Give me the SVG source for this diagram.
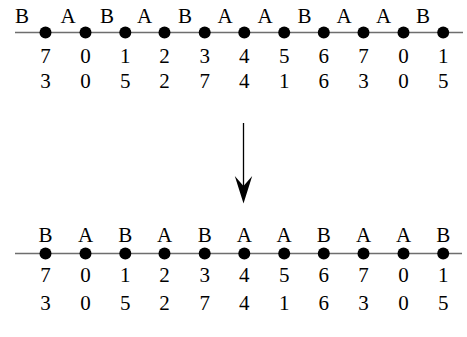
<svg xmlns="http://www.w3.org/2000/svg" width="467" height="337" viewBox="0 0 467 337">
<style>
.axis{stroke:#6e6e6e;stroke-width:1.6;fill:none}
.dot{fill:#000}
.lbl{font-family:"Liberation Serif","Times New Roman",serif;font-size:21px;fill:#000;text-anchor:middle}
</style>
<rect width="467" height="337" fill="#fff"/>
<g id="top">
<line class="axis" x1="15" y1="32.5" x2="463" y2="32.5" stroke="#6e6e6e" stroke-width="1.6"/>
<g id="top-dots" fill="#000">
<circle class="dot" cx="45.5" cy="32.5" r="6"/><circle class="dot" cx="85.5" cy="32.5" r="6"/><circle class="dot" cx="125.3" cy="32.5" r="6"/><circle class="dot" cx="164.5" cy="32.5" r="6"/><circle class="dot" cx="204.7" cy="32.5" r="6"/><circle class="dot" cx="244.3" cy="32.5" r="6"/><circle class="dot" cx="284.2" cy="32.5" r="6"/><circle class="dot" cx="323.8" cy="32.5" r="6"/><circle class="dot" cx="363.5" cy="32.5" r="6"/><circle class="dot" cx="403.5" cy="32.5" r="6"/><circle class="dot" cx="443.2" cy="32.5" r="6"/>
</g>
<g id="top-letters" class="lbl" font-family="'Liberation Serif', 'Times New Roman', serif" font-size="21" text-anchor="middle" fill="#000">
<text x="22" y="22.7">B</text><text x="68" y="22.7">A</text><text x="107" y="22.7">B</text><text x="144.5" y="22.7">A</text><text x="185" y="22.7">B</text><text x="225" y="22.7">A</text><text x="265" y="22.7">A</text><text x="304.5" y="22.7">B</text><text x="344" y="22.7">A</text><text x="383.5" y="22.7">A</text><text x="423" y="22.7">B</text>
</g>
<g id="top-row1" class="lbl" font-family="'Liberation Serif', 'Times New Roman', serif" font-size="21" text-anchor="middle" fill="#000">
<text x="45.5" y="63.3">7</text><text x="85.5" y="63.3">0</text><text x="125.3" y="63.3">1</text><text x="164.5" y="63.3">2</text><text x="204.7" y="63.3">3</text><text x="244.3" y="63.3">4</text><text x="284.2" y="63.3">5</text><text x="323.8" y="63.3">6</text><text x="363.5" y="63.3">7</text><text x="403.5" y="63.3">0</text><text x="443.2" y="63.3">1</text>
</g>
<g id="top-row2" class="lbl" font-family="'Liberation Serif', 'Times New Roman', serif" font-size="21" text-anchor="middle" fill="#000">
<text x="45.5" y="88.3">3</text><text x="85.5" y="88.3">0</text><text x="125.3" y="88.3">5</text><text x="164.5" y="88.3">2</text><text x="204.7" y="88.3">7</text><text x="244.3" y="88.3">4</text><text x="284.2" y="88.3">1</text><text x="323.8" y="88.3">6</text><text x="363.5" y="88.3">3</text><text x="403.5" y="88.3">0</text><text x="443.2" y="88.3">5</text>
</g>
</g>
<g id="connectors">
<line x1="243.5" y1="123" x2="243.5" y2="190" stroke="#000" stroke-width="1.3"/>
<path d="M243.5,203.5 L234.8,176 L243.5,186 L252.2,176 Z" fill="#000"/>
</g>
<g id="bottom">
<line class="axis" x1="15" y1="253.5" x2="462" y2="253.5" stroke="#6e6e6e" stroke-width="1.6"/>
<g id="bottom-dots" fill="#000">
<circle class="dot" cx="45.5" cy="253.5" r="6"/><circle class="dot" cx="85.5" cy="253.5" r="6"/><circle class="dot" cx="125.3" cy="253.5" r="6"/><circle class="dot" cx="164.5" cy="253.5" r="6"/><circle class="dot" cx="204.7" cy="253.5" r="6"/><circle class="dot" cx="244.3" cy="253.5" r="6"/><circle class="dot" cx="284.2" cy="253.5" r="6"/><circle class="dot" cx="323.8" cy="253.5" r="6"/><circle class="dot" cx="363.5" cy="253.5" r="6"/><circle class="dot" cx="403.5" cy="253.5" r="6"/><circle class="dot" cx="443.2" cy="253.5" r="6"/>
</g>
<g id="bottom-letters" class="lbl" font-family="'Liberation Serif', 'Times New Roman', serif" font-size="21" text-anchor="middle" fill="#000">
<text x="45.5" y="241.7">B</text><text x="85.5" y="241.7">A</text><text x="125.3" y="241.7">B</text><text x="164.5" y="241.7">A</text><text x="204.7" y="241.7">B</text><text x="244.3" y="241.7">A</text><text x="284.2" y="241.7">A</text><text x="323.8" y="241.7">B</text><text x="363.5" y="241.7">A</text><text x="403.5" y="241.7">A</text><text x="443.2" y="241.7">B</text>
</g>
<g id="bottom-row1" class="lbl" font-family="'Liberation Serif', 'Times New Roman', serif" font-size="21" text-anchor="middle" fill="#000">
<text x="45.5" y="281.7">7</text><text x="85.5" y="281.7">0</text><text x="125.3" y="281.7">1</text><text x="164.5" y="281.7">2</text><text x="204.7" y="281.7">3</text><text x="244.3" y="281.7">4</text><text x="284.2" y="281.7">5</text><text x="323.8" y="281.7">6</text><text x="363.5" y="281.7">7</text><text x="403.5" y="281.7">0</text><text x="443.2" y="281.7">1</text>
</g>
<g id="bottom-row2" class="lbl" font-family="'Liberation Serif', 'Times New Roman', serif" font-size="21" text-anchor="middle" fill="#000">
<text x="45.5" y="309.5">3</text><text x="85.5" y="309.5">0</text><text x="125.3" y="309.5">5</text><text x="164.5" y="309.5">2</text><text x="204.7" y="309.5">7</text><text x="244.3" y="309.5">4</text><text x="284.2" y="309.5">1</text><text x="323.8" y="309.5">6</text><text x="363.5" y="309.5">3</text><text x="403.5" y="309.5">0</text><text x="443.2" y="309.5">5</text>
</g>
</g>
</svg>
